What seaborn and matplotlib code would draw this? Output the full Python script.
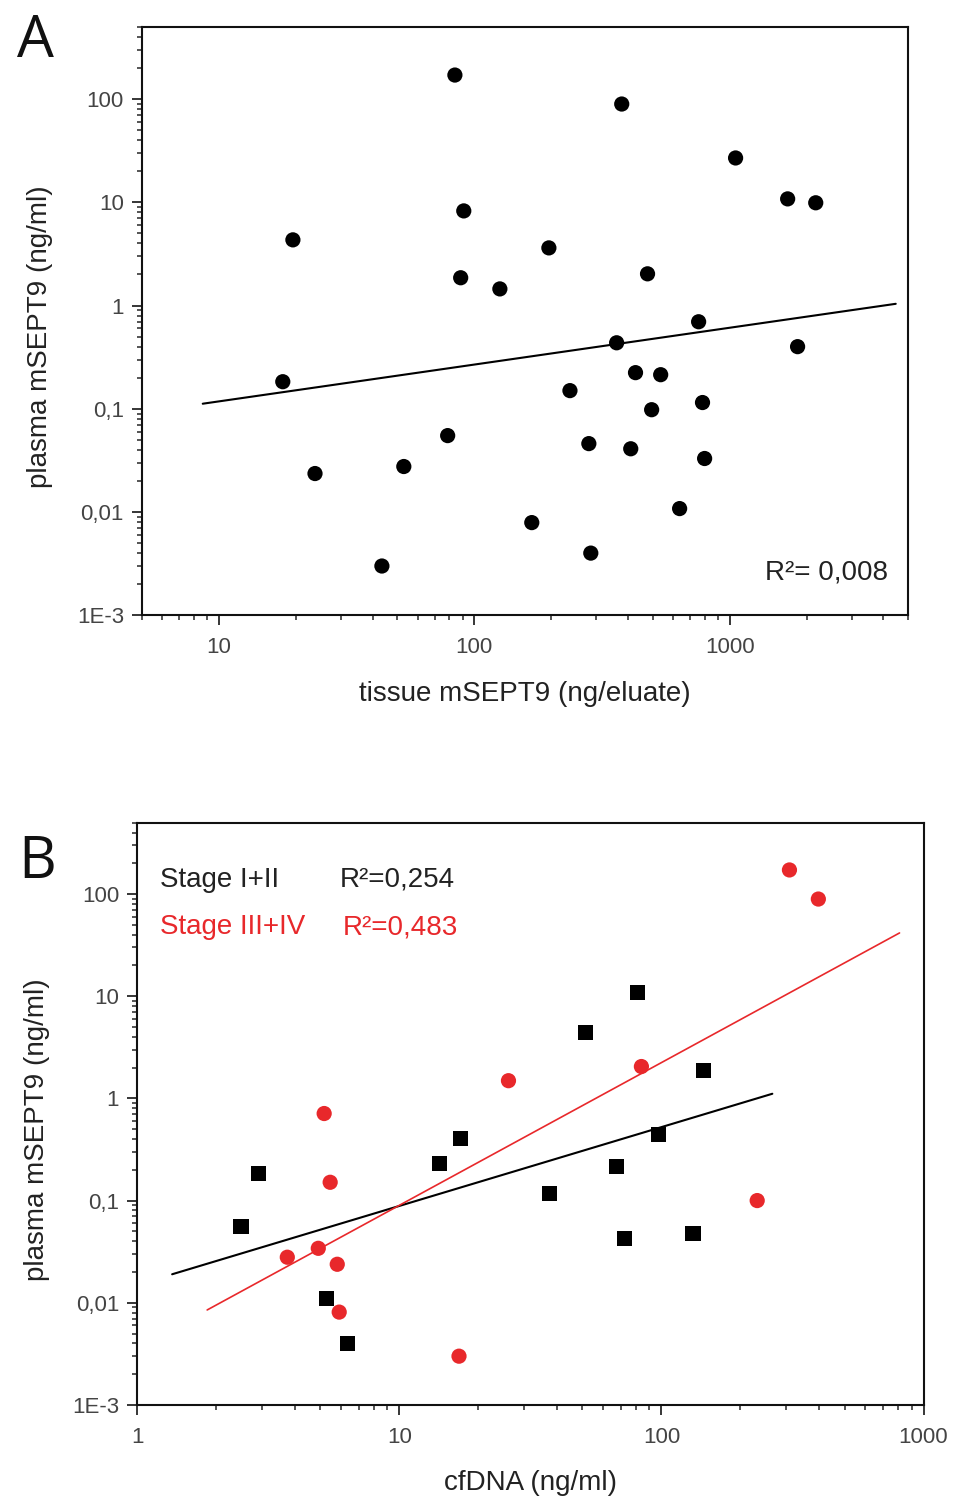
import numpy as np
import pandas as pd
import seaborn as sns
import matplotlib
matplotlib.use("Agg")
import matplotlib.pyplot as plt
from matplotlib.ticker import FixedLocator, LogLocator, NullFormatter

sns.set_style("ticks")
plt.rcParams['font.family'] = ['Liberation Sans', 'DejaVu Sans']

RED = '#e8282b'

# panel A: tissue vs plasma mSEPT9
tissue = [84, 378, 1055, 1687, 2173, 19.5, 91, 88.5, 196, 126, 477, 756, 361,
          1845, 17.8, 428, 537, 237, 495, 783, 78.7, 281, 410, 798, 23.8, 53,
          168, 637, 286, 43.5]
plasma_a = [171, 89.6, 26.9, 10.8, 9.9, 4.33, 8.26, 1.86, 3.62, 1.45, 2.03,
            0.697, 0.436, 0.40, 0.183, 0.224, 0.214, 0.150, 0.098, 0.115,
            0.055, 0.046, 0.041, 0.033, 0.0236, 0.0276, 0.0079, 0.0108,
            0.0040, 0.0030]
fit_a_x = [8.65, 4470]
fit_a_y = [0.112, 1.04]

# panel B: cfDNA vs plasma mSEPT9 by stage
cfdna_early = [81, 51.3, 145, 97.4, 17.1, 14.2, 67.3, 37.4, 2.90, 2.49, 72.2,
               132, 5.27, 6.33]
plasma_early = [10.8, 4.40, 1.87, 0.443, 0.405, 0.231, 0.216, 0.117, 0.185,
                0.056, 0.0428, 0.0479, 0.0111, 0.0040]
cfdna_late = [308, 397, 83.9, 26.1, 5.17, 5.45, 232, 3.74, 4.91, 5.80, 5.90, 16.9]
plasma_late = [172, 89.3, 2.05, 1.49, 0.711, 0.151, 0.100, 0.0279, 0.0341,
               0.0238, 0.0081, 0.0030]
fit_early_x = [1.36, 265]
fit_early_y = [0.019, 1.11]
fit_late_x = [1.85, 810]
fit_late_y = [0.0085, 41.6]

y_ticks = [1e-3, 0.01, 0.1, 1, 10, 100]
y_labels = ['1E-3', '0,01', '0,1', '1', '10', '100']
xa_ticks = [10, 100, 1000]
xa_labels = ['10', '100', '1000']
xb_ticks = [1, 10, 100, 1000]
xb_labels = ['1', '10', '100', '1000']

df_a = pd.DataFrame({'tissue': tissue, 'plasma': plasma_a})
df_b = pd.concat([
    pd.DataFrame({'cfdna': cfdna_early, 'plasma': plasma_early, 'stage': 'I+II'}),
    pd.DataFrame({'cfdna': cfdna_late, 'plasma': plasma_late, 'stage': 'III+IV'}),
])

fig = plt.figure(figsize=(9.59, 14.97), dpi=100)
ax_a = fig.add_axes([0.148, 0.589, 0.799, 0.393])
ax_b = fig.add_axes([0.143, 0.0615, 0.820, 0.389])


def style_axis(ax, xticks, xlabels, xlim, xlabel, ylab_x):
    ax.set_xscale('log')
    ax.set_yscale('log')
    ax.set_xlim(*xlim)
    ax.set_ylim(1e-3, 500)
    ax.xaxis.set_major_locator(FixedLocator(xticks))
    ax.set_xticklabels(xlabels)
    ax.yaxis.set_major_locator(FixedLocator(y_ticks))
    ax.set_yticklabels(y_labels)
    for axis in (ax.xaxis, ax.yaxis):
        axis.set_minor_locator(LogLocator(base=10, subs=np.arange(2, 10), numticks=20))
        axis.set_minor_formatter(NullFormatter())
    ax.tick_params(which='major', direction='out', length=7, width=1.3,
                   labelsize=16, labelcolor='#444444', pad=6)
    ax.tick_params(axis='x', which='major', pad=9)
    ax.tick_params(which='minor', direction='out', length=3.5, width=1.1)
    for sp in ax.spines.values():
        sp.set_linewidth(1.5)
        sp.set_color('#111111')
    ax.set_xlabel(xlabel, fontsize=20, color='#222222', labelpad=16)
    ax.set_ylabel('plasma mSEPT9 (ng/ml)', fontsize=20, color='#222222')
    ax.yaxis.set_label_coords(ylab_x, 0.473)


# panel A
sns.scatterplot(data=df_a, x='tissue', y='plasma', ax=ax_a, color='black',
                s=120, edgecolor='none', legend=False, zorder=3)
sns.lineplot(x=fit_a_x, y=fit_a_y, ax=ax_a, color='black', linewidth=1.5)
style_axis(ax_a, xa_ticks, xa_labels, (5, 5000), 'tissue mSEPT9 (ng/eluate)', -0.116)
ax_a.text(0.974, 0.06, 'R²= 0,008', transform=ax_a.transAxes, ha='right',
          va='baseline', fontsize=20, color='#222222')

# panel B
sns.scatterplot(data=df_b, x='cfdna', y='plasma', hue='stage', style='stage',
                palette={'I+II': 'black', 'III+IV': RED},
                markers={'I+II': 's', 'III+IV': 'o'},
                ax=ax_b, s=120, edgecolor='none', legend=False, zorder=3)
sns.lineplot(x=fit_early_x, y=fit_early_y, ax=ax_b, color='black', linewidth=1.5)
sns.lineplot(x=fit_late_x, y=fit_late_y, ax=ax_b, color=RED, linewidth=1.2)
style_axis(ax_b, xb_ticks, xb_labels, (1, 1000), 'cfDNA (ng/ml)', -0.111)
ax_b.text(0.029, 0.890, 'Stage I+II', transform=ax_b.transAxes, va='baseline',
          fontsize=20, color='#222222')
ax_b.text(0.258, 0.890, 'R²=0,254', transform=ax_b.transAxes, va='baseline',
          fontsize=20, color='#222222')
ax_b.text(0.029, 0.808, 'Stage III+IV', transform=ax_b.transAxes, va='baseline',
          fontsize=20, color=RED)
ax_b.text(0.262, 0.808, 'R²=0,483', transform=ax_b.transAxes, va='baseline',
          fontsize=20, color=RED)

# panel letters
fig.text(17 / 959, 1 - 57 / 1497, 'A', fontsize=42, family='Open Sans',
         va='baseline', color='#111111')
fig.text(18 / 959, 1 - 878 / 1497, 'B', fontsize=42, family='Open Sans',
         va='baseline', color='#111111')

fig.savefig('out.png', dpi=100)
